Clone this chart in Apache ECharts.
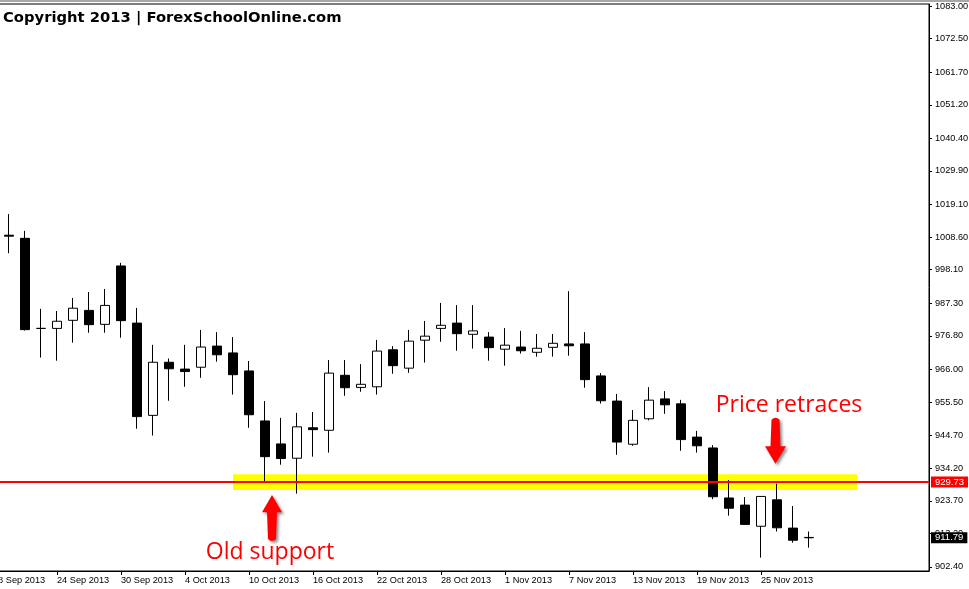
<!DOCTYPE html>
<html>
<head>
<meta charset="utf-8">
<script src="https://cdn.jsdelivr.net/npm/echarts@6/dist/echarts.min.js"></script>
<style>
html,body{margin:0;padding:0;background:#fff;}
#chart{width:969px;height:589px;}
</style>
</head>
<body>
<div id="chart"></div>
<script>
// Trading days (index 0 = 18 Sep 2013 has no visible candle)
var dates = ['18 Sep 2013','19 Sep 2013','20 Sep 2013','23 Sep 2013','24 Sep 2013','25 Sep 2013','26 Sep 2013','27 Sep 2013',
  '30 Sep 2013','1 Oct 2013','2 Oct 2013','3 Oct 2013','4 Oct 2013','7 Oct 2013','8 Oct 2013','9 Oct 2013',
  '10 Oct 2013','11 Oct 2013','14 Oct 2013','15 Oct 2013','16 Oct 2013','17 Oct 2013','18 Oct 2013','21 Oct 2013',
  '22 Oct 2013','23 Oct 2013','24 Oct 2013','25 Oct 2013','28 Oct 2013','29 Oct 2013','30 Oct 2013','31 Oct 2013',
  '1 Nov 2013','4 Nov 2013','5 Nov 2013','6 Nov 2013','7 Nov 2013','8 Nov 2013','11 Nov 2013','12 Nov 2013',
  '13 Nov 2013','14 Nov 2013','15 Nov 2013','18 Nov 2013','19 Nov 2013','20 Nov 2013','21 Nov 2013','22 Nov 2013',
  '25 Nov 2013','26 Nov 2013','27 Nov 2013','28 Nov 2013'];
var emptySlots = 7; // chart shift space on the right

// OHLC for indices 1..51
var opens  = [1009.2,1008.2,979.2,979.2,981.8,985.0,980.5,999.3,980.9,951.2,968.3,966.1,966.7,973.5,971.3,965.5,949.4,942.0,937.4,947.2,946.4,964.1,960.2,960.4,972.3,966.4,975.4,979.2,980.9,977.3,976.4,972.5,973.2,971.5,973.1,974.2,974.2,963.9,955.8,941.9,950.1,956.5,954.9,944.2,940.7,924.6,922.3,915.5,924.0,914.9,911.9];
var closes = [1008.9,978.8,979.2,981.5,985.7,980.4,986.6,981.7,950.8,968.3,966.2,965.3,973.2,970.7,964.3,951.4,937.9,937.3,947.5,946.6,964.8,960.1,961.2,971.9,967.2,975.1,976.7,980.2,977.5,978.4,973.0,973.8,972.0,972.8,974.4,973.6,962.7,955.9,942.6,949.6,956.1,954.6,943.4,941.4,925.0,921.3,916.1,925.1,915.0,911.0,911.79];
var lows   = [1003.4,978.5,969.8,968.8,974.6,977.8,977.8,976.2,946.9,944.7,955.9,960.4,963.3,968.5,957.9,947.2,929.7,935.3,926.0,937.9,939.2,957.5,958.8,957.9,964.6,964.9,968.2,974.9,972.0,972.7,968.8,967.2,971.1,970.1,970.1,970.4,960.1,955.0,938.5,941.4,949.6,951.7,939.8,939.2,924.2,918.9,915.9,905.4,913.8,910.2,908.6];
var highs  = [1016.0,1010.6,985.5,984.8,989.0,990.9,991.9,1000.3,985.8,973.9,969.5,973.9,978.7,978.0,976.4,968.7,955.8,950.4,952.0,952.3,969.0,969.0,967.7,975.5,973.5,978.7,981.6,987.4,986.7,986.7,978.0,979.3,978.4,977.4,977.4,991.2,978.0,964.8,958.1,952.9,960.3,959.0,956.2,946.2,941.6,930.4,924.9,924.9,929.2,922.0,913.8];

var yTickValues = [902.40,913.20,923.70,934.20,944.70,955.50,966.00,976.80,987.30,998.10,1008.60,1019.10,1029.90,1040.40,1051.20,1061.70,1072.50,1083.00];

var supportLevel = 929.73;
var lastPrice = 911.79;
var zoneTop = 932.2, zoneBottom = 927.2;
var zoneStart = 15, zoneEnd = 54;

var categories = dates.concat(new Array(emptySlots).fill(''));
var ohlc = [];
for (var i = 0; i < opens.length; i++) {
  ohlc.push([i + 1, opens[i], closes[i], lows[i], highs[i]]);
}

var upArrow = 'path://M10,0 L20,17 L15,17 L14,43 Q10,47 6,43 L5,17 L0,17 Z';
var downArrow = 'path://M6.5,3 Q10.5,-1 14.5,3 L15.5,29 L21,29 L10.5,46 L0,29 L5.5,29 Z';
var arrowStyle = {color: '#ff0000', shadowColor: 'rgba(0,0,0,0.45)', shadowBlur: 3, shadowOffsetX: 2, shadowOffsetY: 2};
var priceLabel = {show: true, position: 'end', distance: 2, color: '#fff',
  padding: [1, 4, 1, 4], fontFamily: 'Liberation Sans', fontSize: 9.5, lineHeight: 9};

var chart = echarts.init(document.getElementById('chart'), null, {renderer: 'canvas'});
chart.setOption({
  animation: false,
  backgroundColor: '#ffffff',
  title: {
    text: 'Copyright 2013 | ForexSchoolOnline.com',
    left: 1, top: 10, padding: [0, 2],
    textStyle: {fontFamily: 'DejaVu Sans', fontWeight: 'bold', fontSize: 14.75, lineHeight: 16, color: '#000'}
  },
  graphic: [{type: 'rect', shape: {x: 0, y: 0, width: 969, height: 2}, style: {fill: '#a8a8a8'}, silent: true}],
  grid: {left: -15, right: 40, top: 4, bottom: 18, show: true, borderColor: '#000', borderWidth: 1, containLabel: false, outerBoundsMode: 'none'},
  xAxis: {
    type: 'category',
    data: categories,
    boundaryGap: true,
    axisLine: {show: true, lineStyle: {color: '#000', width: 1}},
    axisTick: {show: true, alignWithLabel: true, length: 4, lineStyle: {color: '#000'},
      interval: function (idx, val) { return idx % 4 === 0 && val !== ''; }},
    axisLabel: {show: true, interval: 3, align: 'left', margin: 5, color: '#000', fontFamily: 'Liberation Sans', fontSize: 9.2},
    splitLine: {show: false}
  },
  yAxis: {
    type: 'value',
    position: 'right',
    min: 901.09, max: 1083.644,
    scale: true,
    axisLine: {show: true, lineStyle: {color: '#000', width: 1}},
    axisTick: {show: true, length: 3, lineStyle: {color: '#000'}, customValues: yTickValues},
    axisLabel: {show: true, margin: 6, color: '#000', fontFamily: 'Liberation Sans', fontSize: 9.2,
      customValues: yTickValues, formatter: function (v) { return v.toFixed(2); }},
    splitLine: {show: false}
  },
  series: [{
    type: 'candlestick',
    data: ohlc,
    encode: {x: 0, y: [1, 2, 3, 4]},
    barWidth: 10,
    itemStyle: {color: '#ffffff', color0: '#000000', borderColor: '#000000', borderColor0: '#000000', borderWidth: 1},
    markArea: {
      silent: true,
      itemStyle: {color: '#ffff00', opacity: 1},
      data: [[{xAxis: zoneStart, yAxis: zoneTop}, {xAxis: zoneEnd, yAxis: zoneBottom}]]
    },
    markLine: {
      silent: true,
      symbol: ['none', 'none'],
      precision: 2,
      data: [
        {yAxis: supportLevel, lineStyle: {color: '#ff0000', width: 2, type: 'solid'},
          label: Object.assign({}, priceLabel, {formatter: supportLevel.toFixed(2), backgroundColor: '#ff0000'})},
        {yAxis: lastPrice, lineStyle: {color: 'rgba(0,0,0,0)', width: 1, type: 'solid'},
          label: Object.assign({}, priceLabel, {formatter: lastPrice.toFixed(2), backgroundColor: '#000000'})}
      ]
    },
    markPoint: {
      silent: true,
      data: [
        {coord: [17, 918.16], symbol: upArrow, symbolSize: [20, 46], symbolOffset: [7, 0], itemStyle: arrowStyle, label: {show: false}},
        {coord: [49, 943.05], symbol: downArrow, symbolSize: [21, 46], symbolOffset: [-1.5, 0], itemStyle: arrowStyle, label: {show: false}},
        {coord: [17, 907.2], symbol: 'circle', symbolSize: 1, itemStyle: {color: 'rgba(0,0,0,0)'},
          label: {show: true, position: 'inside', formatter: 'Old support', color: '#ff0000', fontFamily: 'Open Sans', fontSize: 23, offset: [5, 0]}},
        {coord: [49, 954.5], symbol: 'circle', symbolSize: 1, itemStyle: {color: 'rgba(0,0,0,0)'},
          label: {show: true, position: 'inside', formatter: 'Price retraces', color: '#ff0000', fontFamily: 'Open Sans', fontSize: 23, offset: [12, 0]}}
      ]
    }
  }]
});
</script>
</body>
</html>
